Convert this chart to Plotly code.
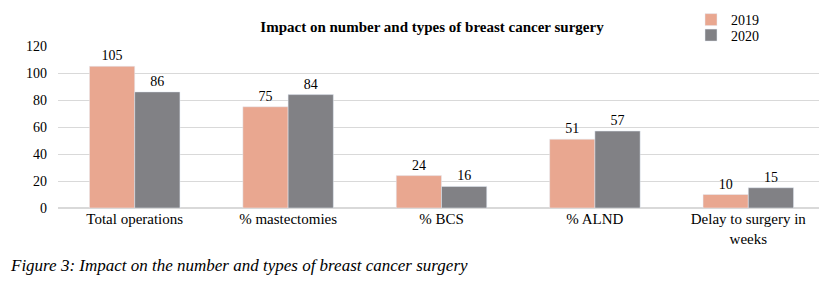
import plotly.graph_objects as go

categories = ["Total operations", "% mastectomies", "% BCS", "% ALND", "Delay to surgery in<br>weeks"]
values_2019 = [105, 75, 24, 51, 10]
values_2020 = [86, 84, 16, 57, 15]
y_ticks = [0, 20, 40, 60, 80, 100, 120]

FONT = "Liberation Serif, Times New Roman, serif"

# page body has an 8px default margin, so the figure is offset by 8px
W, H = 819, 277
L, R, T, B = 50, 2, 38, 77
PW, PH = W - L - R, H - T - B

fig = go.Figure()
fig.add_bar(x=categories, y=values_2019, name="2019", marker_color="#E9A790",
            text=values_2019, textposition="outside", cliponaxis=False,
            textfont=dict(size=14, color="#000000"), legend="legend2")
fig.add_bar(x=categories, y=values_2020, name="2020", marker_color="#818185",
            text=values_2020, textposition="outside", cliponaxis=False,
            textfont=dict(size=14, color="#000000"), legend="legend3")


def leg(center_px):
    return dict(xref="container", yref="container",
                x=683 / W, y=1 - center_px / H, xanchor="left", yanchor="middle",
                font=dict(family=FONT, size=14), itemwidth=30,
                bgcolor="rgba(0,0,0,0)", borderwidth=0)


fig.update_layout(
    width=W, height=H,
    margin=dict(l=L, r=R, t=T, b=B, autoexpand=False),
    paper_bgcolor="white", plot_bgcolor="white",
    font=dict(family=FONT, size=14, color="#000000"),
    barmode="group", bargap=0.41, bargroupgap=0,
    title=dict(text="<b>Impact on number and types of breast cancer surgery</b>",
               x=424 / W, xanchor="center", y=1 - 19 / H, yanchor="middle",
               font=dict(family=FONT, size=15)),
    legend2=leg(12),
    legend3=leg(27.5),
    xaxis=dict(showgrid=False, showline=False, ticks="", tickfont=dict(size=15)),
    yaxis=dict(range=[0, 120], tickvals=y_ticks, showgrid=True, gridcolor="#D9D9D9",
               zeroline=True, zerolinecolor="#D9D9D9", ticks="", showline=False,
               tickfont=dict(size=14), ticklabelstandoff=10),
)

fig.add_annotation(text="<i>Figure 3: Impact on the number and types of breast cancer surgery</i>",
                   xref="paper", yref="paper", x=-L / PW, y=-(257 - (T + PH)) / PH,
                   xanchor="left", yanchor="middle", showarrow=False,
                   font=dict(family=FONT, size=17))

fig.write_html("out.html")
